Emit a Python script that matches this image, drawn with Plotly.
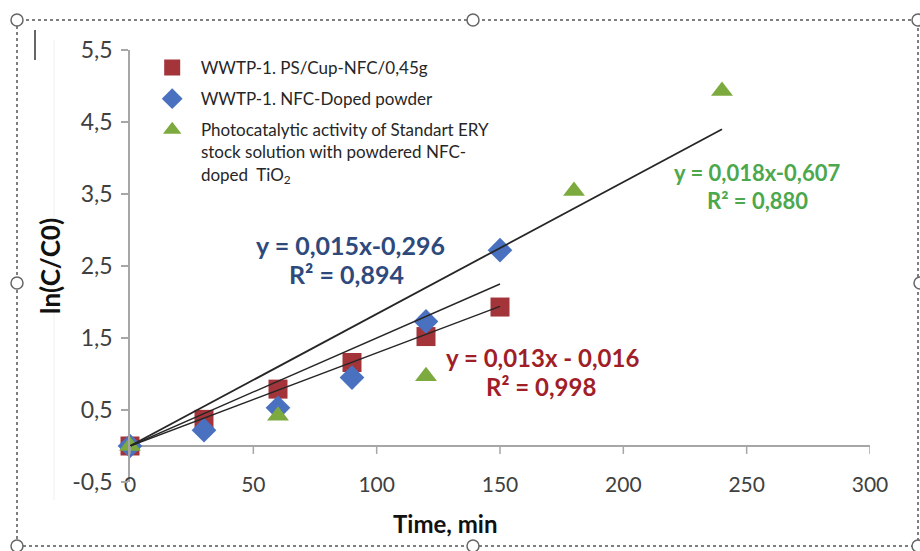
import plotly.graph_objects as go

# ---------------- data ----------------
time_red = [0, 30, 60, 90, 120, 150]
ln_red = [0.0, 0.37, 0.79, 1.16, 1.52, 1.93]

time_blue = [0, 30, 60, 90, 120, 150]
ln_blue = [0.0, 0.22, 0.53, 0.95, 1.73, 2.72]

time_green = [0, 60, 120, 180, 240]
ln_green = [0.0, 0.42, 0.97, 3.54, 4.93]

# trend lines (drawn through origin in the original), end points
trend_x = [[0, 150], [0, 150], [0, 240]]
trend_y = [[0, 1.94], [0, 2.25], [0, 4.40]]
trend_w = [1.4, 1.4, 1.8]

x_ticks = [0, 50, 100, 150, 200, 250, 300]
y_ticks = [-0.5, 0.5, 1.5, 2.5, 3.5, 4.5, 5.5]
y_ticktext = ["-0,5", "0,5", "1,5", "2,5", "3,5", "4,5", "5,5"]

NB = "\u00a0\u00a0"
names = [NB + "WWTP-1. PS/Cup-NFC/0,45g",
         NB + "WWTP-1. NFC-Doped powder",
         NB + "Photocatalytic activity of Standart ERY<br>" + NB +
         "stock solution with powdered NFC-<br>" + NB + "doped  TiO<sub>2</sub>"]

FONT = "Lato"

fig = go.Figure()

fig.add_trace(go.Scatter(x=time_red, y=ln_red, mode="markers", name=names[0],
                         legendgroup="a", cliponaxis=False,
                         marker=dict(symbol="square", size=19, color="#A3343A")))
fig.add_trace(go.Scatter(x=time_blue, y=ln_blue, mode="markers", name=names[1],
                         legendgroup="b", cliponaxis=False,
                         marker=dict(symbol="diamond", size=19, color="#4A71C0")))
fig.add_trace(go.Scatter(x=time_green, y=ln_green, mode="markers", name=names[2],
                         legendgroup="c", cliponaxis=False,
                         marker=dict(symbol="triangle-up", size=19, color="#7DAA3E")))

for tx, ty, w in zip(trend_x, trend_y, trend_w):
    fig.add_trace(go.Scatter(x=tx, y=ty, mode="lines", showlegend=False,
                             line=dict(color="#262626", width=w), hoverinfo="skip"))

shapes = []
# x tick marks on the zero line
for t in x_ticks:
    shapes.append(dict(type="line", xref="x", yref="y", x0=t, x1=t, y0=0, y1=-0.11,
                       line=dict(color="#A6A6A6", width=1.5)))
# faint guide line at left
shapes.append(dict(type="line", xref="paper", yref="paper", x0=(54-130)/740, x1=(54-130)/740,
                   y0=(482-500)/432, y1=(482-40)/432, line=dict(color="#F0F0F0", width=1)))
# selection frame (dotted) with handles
shapes.append(dict(type="rect", xref="paper", yref="paper", x0=-113/740, x1=(918-130)/740,
                   y0=-(546-482)/432, y1=(482-20)/432,
                   line=dict(color="#555555", width=1.5, dash="dot")))
for (px, py) in [(17, 20), (473, 20), (918, 20), (17, 283), (920, 283), (17, 546), (473, 546), (918, 546)]:
    xc = (px - 130) / 740
    yc = (482 - py) / 432
    shapes.append(dict(type="circle", xref="paper", yref="paper",
                       x0=xc - 6/740, x1=xc + 6/740, y0=yc - 6/432, y1=yc + 6/432,
                       fillcolor="white", line=dict(color="#666666", width=1.5)))
# cursor mark
shapes.append(dict(type="line", xref="paper", yref="paper", x0=(35-130)/740, x1=(35-130)/740,
                   y0=(482-60)/432, y1=(482-30)/432, line=dict(color="#333333", width=1.5)))

annotations = [
    dict(text="<b>y = 0,015x-0,296</b>", x=350, y=245, color="#2E4A7D", size=25),
    dict(text="<b>R² = 0,894</b>", x=346, y=274, color="#2E4A7D", size=25),
    dict(text="<b>y = 0,013x - 0,016</b>", x=542, y=357, color="#A01E28", size=24),
    dict(text="<b>R² = 0,998</b>", x=541, y=386, color="#A01E28", size=24),
    dict(text="<b>y = 0,018x-0,607</b>", x=757, y=172, color="#4CA84C", size=22),
    dict(text="<b>R² = 0,880</b>", x=757, y=200, color="#4CA84C", size=22),
    dict(text="<b>Time, min</b>", x=445, y=523, color="#111111", size=24),
]
ann = []
for a in annotations:
    ann.append(dict(text=a["text"], xref="paper", yref="paper",
                    x=(a["x"] - 130) / 740, y=(482 - a["y"]) / 432,
                    xanchor="center", yanchor="middle", showarrow=False,
                    font=dict(family=FONT, size=a["size"], color=a["color"])))

fig.update_layout(
    width=920, height=551,
    margin=dict(l=130, r=50, t=50, b=69),
    paper_bgcolor="white", plot_bgcolor="white",
    font=dict(family=FONT, color="#404040"),
    shapes=shapes,
    annotations=ann,
    legend=dict(x=0.03, y=1.0, xanchor="left", yanchor="top",
                font=dict(family=FONT, size=17, color="#262626"),
                bgcolor="rgba(0,0,0,0)", tracegroupgap=6, valign="top",
                traceorder="grouped"),
    xaxis=dict(range=[0, 300], tickvals=x_ticks, showgrid=False, zeroline=False,
               showline=False, ticks="", tickfont=dict(size=21, color="#404040"),
               ticklabelstandoff=-12),
    yaxis=dict(range=[-0.5, 5.5], tickvals=y_ticks, ticktext=y_ticktext,
               showgrid=False, zeroline=True, zerolinecolor="#A6A6A6", zerolinewidth=1.5,
               showline=True, linecolor="#A6A6A6", linewidth=1.5,
               ticks="outside", ticklen=7, tickcolor="#A6A6A6", tickwidth=1.5,
               tickfont=dict(size=23, color="#404040"), ticklabelstandoff=4,
               title=dict(text="<b>ln(C/C0)</b>", font=dict(size=26, color="#111111"),
                          standoff=4)),
)

fig.write_html("out.html")
